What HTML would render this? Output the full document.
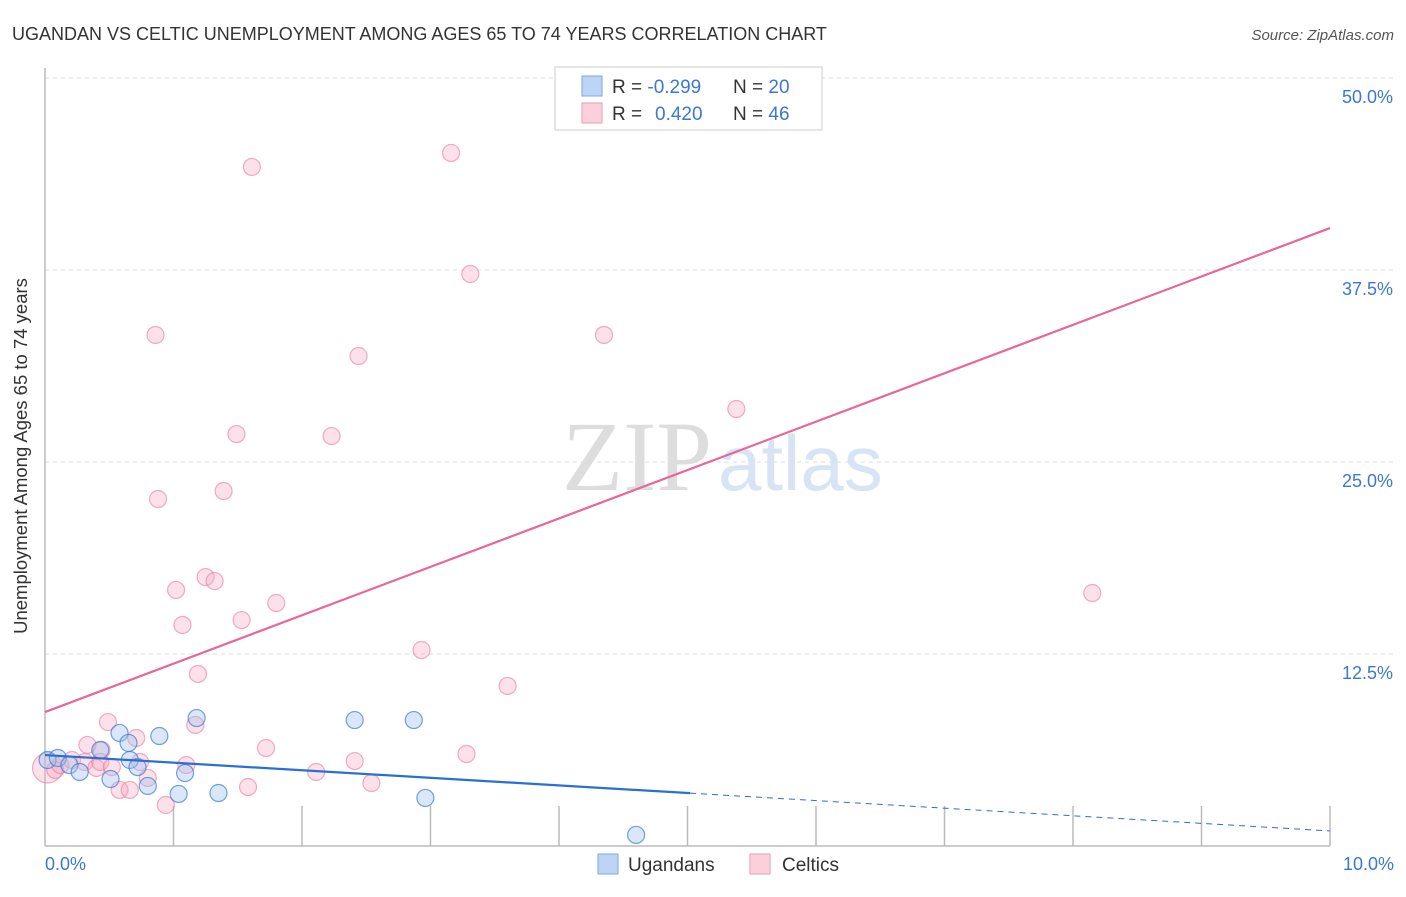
<!DOCTYPE html>
<html><head><meta charset="utf-8"><style>
body{margin:0;background:#fff;font-family:"Liberation Sans",sans-serif}
svg text{font-family:"Liberation Sans",sans-serif}
</style></head><body>
<svg width="1406" height="892">
<text x="12" y="40" font-size="18" fill="#333">UGANDAN VS CELTIC UNEMPLOYMENT AMONG AGES 65 TO 74 YEARS CORRELATION CHART</text>
<text x="1394" y="40" font-size="15" fill="#555" font-style="italic" text-anchor="end">Source: ZipAtlas.com</text>
<g id="grid"></g>
<text x="712" y="490" font-size="100" fill="#ddd" text-anchor="end" style="font-family:'Liberation Serif',serif">ZIP</text>
<text x="718" y="490" font-size="78" fill="#d6e4f5">atlas</text>
<g id="marks"></g>
<text x="27" y="456" font-size="18.5" fill="#333" text-anchor="middle" transform="rotate(-90 27 456)">Unemployment Among Ages 65 to 74 years</text>
<text x="45" y="870" font-size="18" fill="#3a78d4">0.0%</text>
<text x="1394" y="870" font-size="18" fill="#3a78d4" text-anchor="end">10.0%</text>
<g>
<rect x="555" y="67" width="267" height="63" fill="#fff" stroke="#ccc"/>
<rect x="582" y="76" width="20" height="20" fill="#bcd5f5" stroke="#7aa6e0"/>
<rect x="582" y="103" width="20" height="20" fill="#fbd0dc" stroke="#eb9ab2"/>
<text x="612" y="93" font-size="19" fill="#333">R = <tspan fill="#3a78d4">-0.299</tspan><tspan x="733">N = </tspan><tspan fill="#3a78d4">20</tspan></text>
<text x="612" y="120" font-size="19" fill="#333">R = <tspan x="655" fill="#3a78d4">0.420</tspan><tspan x="733">N = </tspan><tspan fill="#3a78d4">46</tspan></text>
</g>
<g>
<rect x="598" y="854" width="20" height="20" fill="#bcd5f5" stroke="#7aa6e0"/>
<text x="628" y="871" font-size="19" fill="#333">Ugandans</text>
<rect x="750" y="854" width="20" height="20" fill="#fbd0dc" stroke="#eb9ab2"/>
<text x="782" y="871" font-size="19" fill="#333">Celtics</text>
</g>
</svg>
<script>
const yTicks=[12.5,25,37.5,50];
const yTickLabels=["12.5%","25.0%","37.5%","50.0%"];
const blueX=[0.02,0.10,0.19,0.27,0.43,0.51,0.58,0.65,0.66,0.72,0.80,0.89,1.04,1.09,1.18,1.35,2.41,2.87,2.96,4.60];
const blueY=[5.60,5.73,5.27,4.82,6.25,4.36,7.36,6.71,5.60,5.14,3.91,7.16,3.39,4.75,8.33,3.45,8.20,8.20,3.13,0.72];
const pinkX=[0.02,0.08,0.12,0.21,0.31,0.33,0.40,0.43,0.44,0.49,0.52,0.58,0.66,0.71,0.74,0.80,0.86,0.88,0.94,1.02,1.07,1.10,1.17,1.19,1.25,1.32,1.39,1.49,1.53,1.58,1.61,1.72,1.80,2.11,2.23,2.41,2.44,2.54,2.93,3.16,3.28,3.31,3.60,4.35,5.38,8.15];
const pinkY=[5.08,4.95,5.27,5.60,5.47,6.58,5.08,5.47,6.25,8.07,5.14,3.65,3.65,7.03,5.47,4.43,33.27,22.59,2.67,16.67,14.39,5.27,7.88,11.20,17.51,17.25,23.11,26.82,14.71,3.84,44.21,6.38,15.82,4.82,26.69,5.53,31.90,4.10,12.76,45.12,5.99,37.24,10.42,33.27,28.45,16.47];
const pinkLine=[8.72,40.23];
const blueLine=[5.92,0.98];
const blueSolidEnd=5.02;
const NS='http://www.w3.org/2000/svg';
const sx=v=>45+v*128.5, sy=v=>846-v*15.36;
function mk(t,a,p){const e=document.createElementNS(NS,t);for(const k in a)e.setAttribute(k,a[k]);p.appendChild(e);return e;}
const grid=document.getElementById('grid'),marks=document.getElementById('marks');
yTicks.forEach((t,i)=>{
 const l=mk('line',{x1:45,x2:1394,y1:sy(t),y2:sy(t),stroke:'#ddd','stroke-dasharray':'4,4'},grid);
 
 
 const tx=mk('text',{x:1393,y:sy(t)+25,'font-size':18,fill:'#3a78d4','text-anchor':'end'},grid);
 tx.textContent=yTickLabels[i];
 
 
});
const ax=mk('line',{x1:45,x2:45,y1:68,y2:846,stroke:'#bbb','stroke-width':1.5},grid);


const bx=mk('line',{x1:45,x2:1330,y1:846,y2:846,stroke:'#bbb','stroke-width':1.5},grid);


for(let i=1;i<=10;i++){
 const t=mk('line',{x1:sx(i),x2:sx(i),y1:806,y2:846,stroke:'#bbb','stroke-width':1.5},grid);
 
 
}
pinkX.forEach((x,i)=>{
 const c=mk('circle',{cx:sx(x),cy:sy(pinkY[i]),r:i==0?15:8.5,fill:'rgba(247,170,195,0.35)',stroke:'rgba(232,120,155,0.6)','stroke-width':1.2},marks);
 
 
});
blueX.forEach((x,i)=>{
 const c=mk('circle',{cx:sx(x),cy:sy(blueY[i]),r:8.5,fill:'rgba(160,195,240,0.4)',stroke:'rgba(60,120,210,0.7)','stroke-width':1.2},marks);
 
 
});
const pl=mk('line',{x1:sx(0),y1:sy(pinkLine[0]),x2:sx(10),y2:sy(pinkLine[1]),stroke:'#e8669a','stroke-width':2.2},marks);


const bAt=x=>blueLine[0]+(blueLine[1]-blueLine[0])*x/10;
const bl=mk('line',{x1:sx(0),y1:sy(blueLine[0]),x2:sx(blueSolidEnd),y2:sy(bAt(blueSolidEnd)),stroke:'#2a6fd6','stroke-width':2.2},marks);


const bd=mk('line',{x1:sx(blueSolidEnd),y1:sy(bAt(blueSolidEnd)),x2:sx(10),y2:sy(blueLine[1]),stroke:'#2a6fd6','stroke-width':1,'stroke-dasharray':'6,5'},marks);


</script>
</body></html>
